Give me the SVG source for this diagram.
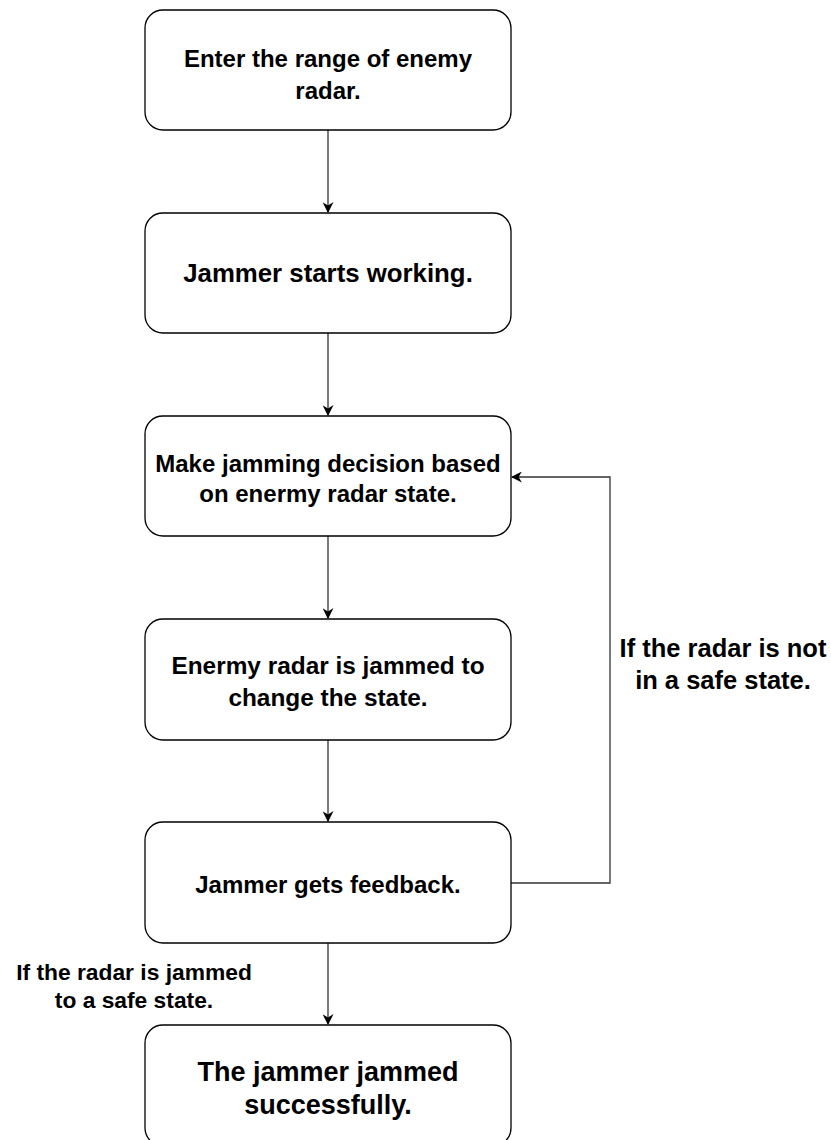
<svg xmlns="http://www.w3.org/2000/svg" width="831" height="1140" viewBox="0 0 831 1140">
<defs>
<style>
.box{fill:#fff;stroke:#000;stroke-width:1.3}
.t{font-family:"Liberation Sans",Arial,sans-serif;font-weight:bold;font-size:24px;text-anchor:middle;fill:#000}
.big{font-size:25.8px}
.lbl{font-family:"Liberation Sans",Arial,sans-serif;font-weight:bold;font-size:22.8px;text-anchor:middle;fill:#000}
.c{fill:none;stroke:#333;stroke-width:1.3}
</style>
<marker id="a" viewBox="0 0 10 10" refX="9" refY="5" markerWidth="11" markerHeight="11" markerUnits="userSpaceOnUse" orient="auto">
<path d="M0,0 L10,5 L0,10 L3,5 Z" fill="#000"/>
</marker>
</defs>
<rect width="831" height="1140" fill="#fff"/>
<g id="connectors">
<line class="c" x1="328" y1="130" x2="328" y2="212" marker-end="url(#a)"/>
<line class="c" x1="328" y1="333" x2="328" y2="415" marker-end="url(#a)"/>
<line class="c" x1="328" y1="536" x2="328" y2="618" marker-end="url(#a)"/>
<line class="c" x1="328" y1="740" x2="328" y2="821" marker-end="url(#a)"/>
<line class="c" x1="328" y1="943" x2="328" y2="1024" marker-end="url(#a)"/>
<polyline class="c" points="511,883 610,883 610,477 512,477" marker-end="url(#a)"/>
</g>
<g id="n1"><rect class="box" x="145" y="10" width="366" height="120" rx="18"/>
<text class="t" x="328" y="67">Enter the range of enemy</text>
<text class="t" x="328" y="99">radar.</text></g>
<g id="n2"><rect class="box" x="145" y="213" width="366" height="120" rx="18"/>
<text class="t big" x="328" y="282">Jammer starts working.</text></g>
<g id="n3"><rect class="box" x="145" y="416" width="366" height="120" rx="18"/>
<text class="t" x="328" y="472">Make jamming decision based</text>
<text class="t" x="328" y="502">on enermy radar state.</text></g>
<g id="n4"><rect class="box" x="145" y="619" width="366" height="121" rx="18"/>
<text class="t" x="328" y="674" style="font-size:24.4px">Enermy radar is jammed to</text>
<text class="t" x="328" y="706" style="font-size:24.4px">change the state.</text></g>
<g id="n5"><rect class="box" x="145" y="822" width="366" height="121" rx="18"/>
<text class="t" x="328" y="893">Jammer gets feedback.</text></g>
<g id="n6"><rect class="box" x="145" y="1025" width="366" height="121" rx="18"/>
<text class="t" x="328" y="1081" style="font-size:27px">The jammer jammed</text>
<text class="t" x="328" y="1114" style="font-size:27px">successfully.</text></g>
<g id="labels">
<text class="lbl" x="723" y="657" style="font-size:25.5px">If the radar is not</text>
<text class="lbl" x="723" y="689" style="font-size:25.5px">in a safe state.</text>
<text class="lbl" x="134" y="980">If the radar is jammed</text>
<text class="lbl" x="134" y="1008">to a safe state.</text>
</g>
</svg>
